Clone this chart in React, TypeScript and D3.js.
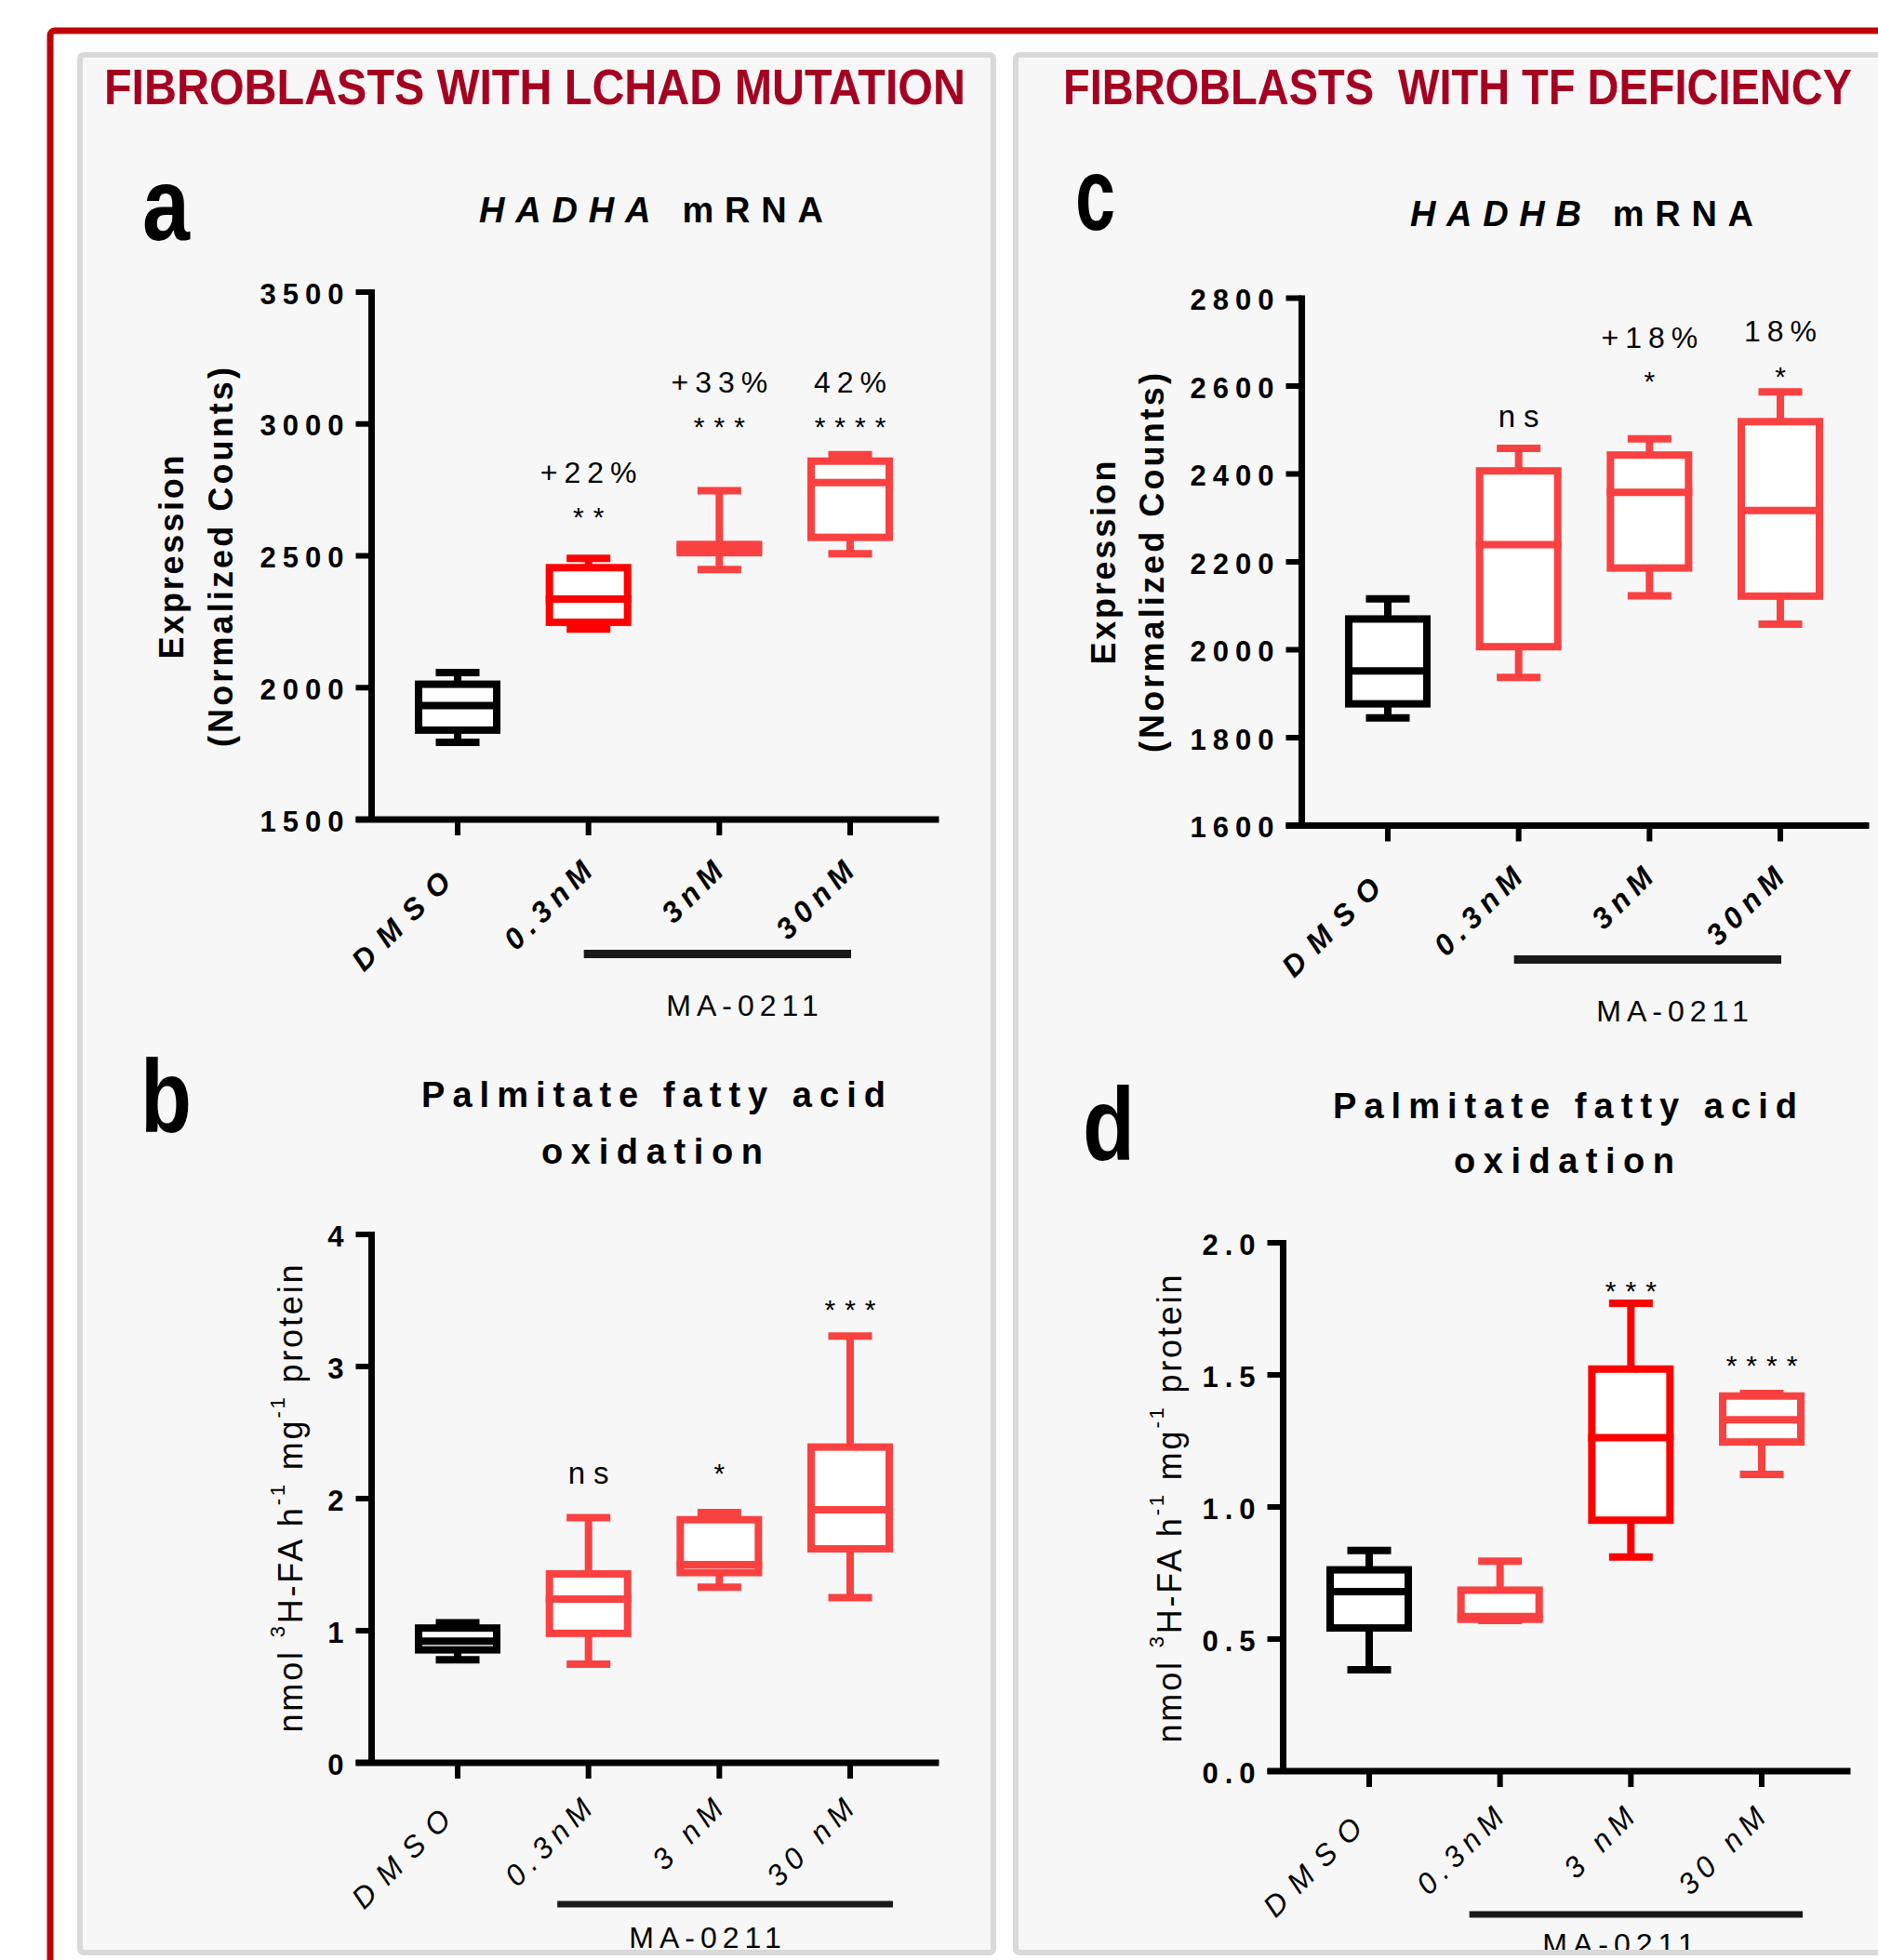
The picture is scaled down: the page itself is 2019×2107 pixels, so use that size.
import React from "react";
import * as d3 from "d3";

// ---- values ----
const dosesTop = ["DMSO", "0.3nM", "3nM", "30nM"];
const dosesBottom = ["DMSO", "0.3nM", "3 nM", "30 nM"];

// a: HADHA mRNA, fibroblasts with LCHAD mutation
const hadhaMin = [1793, 2222, 2448, 2508];
const hadhaQ1 = [1839, 2248, 2512, 2570];
const hadhaMed = [1932, 2336, 2528, 2778];
const hadhaQ3 = [2013, 2455, 2543, 2859];
const hadhaMax = [2057, 2490, 2747, 2884];
const hadhaPct = ["", "+22%", "+33%", "42%"];
const hadhaSig = ["", "**", "***", "****"];
const hadhaTicks = [1500, 2000, 2500, 3000, 3500];

// b: palmitate FAO, LCHAD
const faoLchadMin = [0.78, 0.747, 1.33, 1.25];
const faoLchadQ1 = [0.855, 0.98, 1.44, 1.62];
const faoLchadMed = [0.92, 1.24, 1.5, 1.915];
const faoLchadQ3 = [1.02, 1.43, 1.84, 2.39];
const faoLchadMax = [1.06, 1.855, 1.895, 3.23];
const faoLchadSig = ["", "ns", "*", "***"];
const faoLchadTicks = [0, 1, 2, 3, 4];

// c: HADHB mRNA, fibroblasts with TF deficiency
const hadhbMin = [1845, 1937, 2123, 2058];
const hadhbQ1 = [1877, 2007, 2186, 2122];
const hadhbMed = [1952, 2239, 2358, 2317];
const hadhbQ3 = [2070, 2407, 2443, 2519];
const hadhbMax = [2116, 2458, 2480, 2587];
const hadhbPct = ["", "", "+18%", "18%"];
const hadhbSig = ["", "ns", "*", "*"];
const hadhbTicks = [1600, 1800, 2000, 2200, 2400, 2600, 2800];

// d: palmitate FAO, TF deficiency
const faoTfMin = [0.384, 0.57, 0.811, 1.123];
const faoTfQ1 = [0.542, 0.575, 0.95, 1.246];
const faoTfMed = [0.68, 0.585, 1.262, 1.33];
const faoTfQ3 = [0.762, 0.685, 1.522, 1.42];
const faoTfMax = [0.835, 0.795, 1.771, 1.43];
const faoTfSig = ["", "", "***", "****"];
const faoTfTicks = [0, 0.5, 1, 1.5, 2];

const FONT = "'Liberation Sans', Arial, sans-serif";
const BLACK = "#000000";
const RED = "#FF0000";
const SALMON = "#FA4141";
const HEAD = "#A50021";

type PanelProps = {
  axisX: number;
  top: number;
  bottom: number;
  domain: [number, number];
  ticks: number[];
  fmt: (v: number) => string;
  cats: string[];
  min: number[];
  q1: number[];
  med: number[];
  q3: number[];
  max: number[];
  colors: string[];
  pct?: string[];
  pctAt?: (number | null)[];
  sig: string[];
  sigAt: (number | null)[];
  boldCats: boolean;
  labelOff: [number, number];
  bar: [number, number, number, number];
  ma: [number, number];
};

function BoxPanel(p: PanelProps) {
  const y = d3.scaleLinear().domain(p.domain).range([p.bottom, p.top]);
  const x = d3
    .scalePoint<string>()
    .domain(p.cats)
    .range([p.axisX + 92.5, p.axisX + 514.5]);
  const sw = 8;
  const tickLs = 7;
  const k = Math.SQRT1_2;

  return (
    <g fontFamily={FONT}>
      {/* axes */}
      <line x1={p.axisX} x2={p.axisX} y1={p.top - 3} y2={p.bottom} stroke="#000" strokeWidth={7} />
      <line x1={p.axisX - 17} x2={p.axisX + 610} y1={p.bottom} y2={p.bottom} stroke="#000" strokeWidth={7} />
      {p.ticks.map((t) => (
        <g key={t}>
          <line x1={p.axisX - 17} x2={p.axisX} y1={y(t)} y2={y(t)} stroke="#000" strokeWidth={6} />
          <text
            x={p.axisX - 30 + tickLs}
            y={y(t) + 2}
            textAnchor="end"
            dominantBaseline="central"
            fontWeight="bold"
            fontSize={31}
            letterSpacing={tickLs}
          >
            {p.fmt(t)}
          </text>
        </g>
      ))}
      {p.cats.map((c) => (
        <line key={c} x1={x(c)} x2={x(c)} y1={p.bottom} y2={p.bottom + 17} stroke="#000" strokeWidth={6} />
      ))}

      {/* boxes */}
      {p.cats.map((c, i) => {
        const cx = x(c) as number;
        const col = p.colors[i];
        return (
          <g key={c} stroke={col} strokeWidth={sw}>
            <line x1={cx} x2={cx} y1={y(p.max[i])} y2={y(p.q3[i])} />
            <line x1={cx} x2={cx} y1={y(p.q1[i])} y2={y(p.min[i])} />
            <line x1={cx - 23.5} x2={cx + 23.5} y1={y(p.max[i])} y2={y(p.max[i])} />
            <line x1={cx - 23.5} x2={cx + 23.5} y1={y(p.min[i])} y2={y(p.min[i])} />
            <rect x={cx - 42} width={84} y={y(p.q3[i])} height={y(p.q1[i]) - y(p.q3[i])} fill="#FFFFFF" />
            <line x1={cx - 46} x2={cx + 46} y1={y(p.med[i])} y2={y(p.med[i])} />
          </g>
        );
      })}

      {/* annotations */}
      {p.cats.map((c, i) => {
        const cx = x(c) as number;
        const out: React.ReactNode[] = [];
        if (p.pct && p.pctAt && p.pct[i] && p.pctAt[i] != null) {
          out.push(
            <text key="p" x={cx + 3.5} y={y(p.pctAt[i] as number)} textAnchor="middle" fontSize={32} letterSpacing={7}>
              {p.pct[i]}
            </text>
          );
        }
        if (p.sig[i] && p.sigAt[i] != null) {
          const isNs = p.sig[i] === "ns";
          const ls = isNs ? 9 : 10;
          out.push(
            <text key="s" x={cx + ls / 2} y={y(p.sigAt[i] as number)} textAnchor="middle" fontSize={isNs ? 33 : 30} letterSpacing={ls}>
              {p.sig[i]}
            </text>
          );
        }
        return <g key={c}>{out}</g>;
      })}

      {/* category labels (control label is spaced wider and sits further back) */}
      {p.cats.map((c, i) => {
        const ls = i === 0 ? 13 : 7;
        const back = i === 0 ? 16 : 0;
        const ex = (x(c) as number) + p.labelOff[0] + (ls - back) * k;
        const ey = p.bottom + p.labelOff[1] - (ls - back) * k;
        return (
          <text
            key={c}
            transform={`translate(${ex},${ey}) rotate(-45)`}
            textAnchor="end"
            fontStyle="italic"
            fontWeight={p.boldCats ? "bold" : "normal"}
            fontSize={32}
            letterSpacing={ls}
          >
            {c}
          </text>
        );
      })}

      {/* treatment bar */}
      <line
        x1={(x(p.cats[1]) as number) + p.bar[0]}
        x2={(x(p.cats[3]) as number) + p.bar[1]}
        y1={p.bottom + p.bar[2]}
        y2={p.bottom + p.bar[2]}
        stroke="#1A1A1A"
        strokeWidth={p.bar[3]}
      />
      <text x={p.ma[0] + 3} y={p.ma[1]} textAnchor="middle" fontSize={32} letterSpacing={6}>
        MA-0211
      </text>
    </g>
  );
}

function FaoLabel({ x, cy }: { x: number; cy: number }) {
  return (
    <text
      transform={`translate(${x},${cy}) rotate(-90)`}
      textAnchor="middle"
      fontFamily={FONT}
      fontSize={36}
      textLength={503}
      lengthAdjust="spacing"
    >
      <tspan>nmol </tspan>
      <tspan fontSize={22} dy={-19}>3</tspan>
      <tspan dy={19}>H-FA h</tspan>
      <tspan fontSize={22} dy={-19}>-1</tspan>
      <tspan dy={19}> mg</tspan>
      <tspan fontSize={22} dy={-19}>-1</tspan>
      <tspan dy={19}> protein</tspan>
    </text>
  );
}

function ExprLabel({ x1, x2, cy }: { x1: number; x2: number; cy: number }) {
  return (
    <g fontFamily={FONT} fontWeight="bold" fontSize={36}>
      <text transform={`translate(${x1},${cy}) rotate(-90)`} textAnchor="middle" textLength={219} lengthAdjust="spacing">
        Expression
      </text>
      <text transform={`translate(${x2},${cy}) rotate(-90)`} textAnchor="middle" textLength={408} lengthAdjust="spacing">
        (Normalized Counts)
      </text>
    </g>
  );
}

function Letter({ ch, x, y, w }: { ch: string; x: number; y: number; w: number }) {
  return (
    <text x={x} y={y} fontFamily={FONT} fontWeight="bold" fontSize={112} textLength={w} lengthAdjust="spacingAndGlyphs">
      {ch}
    </text>
  );
}

// condensed section header: glyphs squeezed horizontally to the reference width
function Header({ x, y, w, sx, children }: { x: number; y: number; w: number; sx: number; children: string }) {
  return (
    <text
      transform={`translate(${x},${y}) scale(${sx},1)`}
      fontFamily={FONT}
      fontWeight="bold"
      fontSize={54}
      fill={HEAD}
      textLength={w / sx}
      lengthAdjust="spacingAndGlyphs"
      style={{ whiteSpace: "pre" }}
    >
      {children}
    </text>
  );
}

export default function App() {
  const intFmt = (v: number) => d3.format("d")(v);
  const oneDec = (v: number) => d3.format(".1f")(v);
  return (
    <svg width={2019} height={2107} style={{ position: "absolute", top: 0, left: 0 }}>
      <rect x={0} y={0} width={2019} height={2107} fill="#FFFFFF" />
      <rect x={54} y={33} width={2100} height={2200} rx={5} fill="none" stroke="#C00000" strokeWidth={7} />

      <rect x={86} y={59} width={982} height={2040} rx={4} fill="#F7F7F7" />
      <rect x={1092} y={59} width={1000} height={2040} rx={4} fill="#F7F7F7" />

      {/* headers */}
      <Header x={112} y={112} w={926} sx={0.89}>FIBROBLASTS WITH LCHAD MUTATION</Header>
      <Header x={1143} y={112} w={848} sx={0.87}>{"FIBROBLASTS  WITH TF DEFICIENCY"}</Header>

      {/* panel letters */}
      <Letter ch="a" x={153} y={258} w={51} />
      <Letter ch="b" x={151} y={1217} w={55} />
      <Letter ch="c" x={1156} y={247} w={43} />
      <Letter ch="d" x={1164} y={1247} w={56} />

      {/* titles */}
      <text x={515} y={239} fontFamily={FONT} fontWeight="bold" fontSize={38} textLength={370} lengthAdjust="spacing">
        <tspan fontStyle="italic">HADHA</tspan>
        <tspan> mRNA</tspan>
      </text>
      <text x={1516} y={243} fontFamily={FONT} fontWeight="bold" fontSize={38} textLength={369} lengthAdjust="spacing">
        <tspan fontStyle="italic">HADHB</tspan>
        <tspan> mRNA</tspan>
      </text>
      <g fontFamily={FONT} fontWeight="bold" fontSize={38}>
        <text x={453} y={1190} textLength={499} lengthAdjust="spacing">Palmitate fatty acid</text>
        <text x={582} y={1251} textLength={238} lengthAdjust="spacing">oxidation</text>
        <text x={1433} y={1202} textLength={499} lengthAdjust="spacing">Palmitate fatty acid</text>
        <text x={1563} y={1261} textLength={237} lengthAdjust="spacing">oxidation</text>
      </g>

      {/* y axis titles */}
      <ExprLabel x1={197} x2={250} cy={599} />
      <ExprLabel x1={1199} x2={1251} cy={605} />
      <FaoLabel x={325} cy={1611} />
      <FaoLabel x={1270} cy={1622} />

      <BoxPanel
        axisX={399.5}
        top={314}
        bottom={881}
        domain={[1500, 3500]}
        ticks={hadhaTicks}
        fmt={intFmt}
        cats={dosesTop}
        min={hadhaMin}
        q1={hadhaQ1}
        med={hadhaMed}
        q3={hadhaQ3}
        max={hadhaMax}
        colors={[BLACK, RED, SALMON, SALMON]}
        pct={hadhaPct}
        pctAt={[null, 2777, 3119, 3119]}
        sig={hadhaSig}
        sigAt={[null, 2611, 2953, 2953]}
        boldCats={true}
        labelOff={[6, 58]}
        bar={[-5, 1, 144.5, 9]}
        ma={[798, 1092]}
      />
      <BoxPanel
        axisX={399.5}
        top={1327}
        bottom={1895}
        domain={[0, 4]}
        ticks={faoLchadTicks}
        fmt={intFmt}
        cats={dosesBottom}
        min={faoLchadMin}
        q1={faoLchadQ1}
        med={faoLchadMed}
        q3={faoLchadQ3}
        max={faoLchadMax}
        colors={[BLACK, SALMON, SALMON, SALMON]}
        sig={faoLchadSig}
        sigAt={[null, 2.113, 2.12, 3.36]}
        boldCats={false}
        labelOff={[6, 52]}
        bar={[-33.5, 46, 152, 7]}
        ma={[758, 2094]}
      />
      <BoxPanel
        axisX={1399.5}
        top={320.5}
        bottom={887.5}
        domain={[1600, 2800]}
        ticks={hadhbTicks}
        fmt={intFmt}
        cats={dosesTop}
        min={hadhbMin}
        q1={hadhbQ1}
        med={hadhbMed}
        q3={hadhbQ3}
        max={hadhbMax}
        colors={[BLACK, SALMON, SALMON, SALMON]}
        pct={hadhbPct}
        pctAt={[null, null, 2687, 2702]}
        sig={hadhbSig}
        sigAt={[null, 2507, 2589, 2600]}
        boldCats={true}
        labelOff={[6, 58]}
        bar={[-5, 1, 144, 9]}
        ma={[1798, 1098]}
      />
      <BoxPanel
        axisX={1379.5}
        top={1336}
        bottom={1904}
        domain={[0, 2]}
        ticks={faoTfTicks}
        fmt={oneDec}
        cats={dosesBottom}
        min={faoTfMin}
        q1={faoTfQ1}
        med={faoTfMed}
        q3={faoTfQ3}
        max={faoTfMax}
        colors={[BLACK, SALMON, RED, SALMON]}
        sig={faoTfSig}
        sigAt={[null, null, 1.782, 1.5]}
        boldCats={false}
        labelOff={[6, 52]}
        bar={[-33, 44, 154, 7]}
        ma={[1740, 2101]}
      />

      {/* panel frames on top */}
      <rect x={86} y={59} width={982} height={2040} rx={4} fill="none" stroke="#D9D9D9" strokeWidth={6} />
      <rect x={1092} y={59} width={1000} height={2040} rx={4} fill="none" stroke="#D9D9D9" strokeWidth={6} />
    </svg>
  );
}
